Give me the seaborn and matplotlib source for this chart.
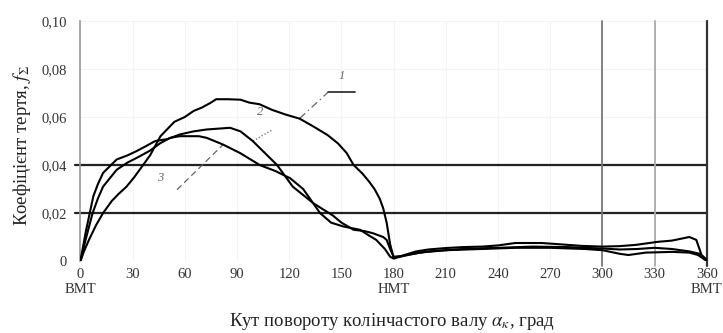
import numpy as np
import pandas as pd
import matplotlib
matplotlib.use("Agg")
import matplotlib.pyplot as plt
import seaborn as sns

# ---- data ----
x1 = [0, 2, 5, 9, 13, 18, 22, 26.5, 31, 36, 40, 43, 46, 50, 54, 60, 65, 70, 75, 78, 85, 92,
      97, 103, 110, 118, 126, 134, 142, 148, 153, 157, 162, 166, 169, 172, 174, 176, 178, 180,
      184, 193, 200, 210, 220, 231, 240, 250, 265, 275, 288, 300, 310, 319, 332, 340, 350,
      354, 357, 360]
y1 = [0, 0.004, 0.009, 0.015, 0.020, 0.025, 0.028, 0.031, 0.035, 0.040, 0.044, 0.048, 0.052,
      0.055, 0.058, 0.060, 0.0625, 0.064, 0.066, 0.0674, 0.0674, 0.0672, 0.066, 0.0653, 0.063,
      0.061, 0.0593, 0.056, 0.0525, 0.049, 0.045, 0.040, 0.0365, 0.033, 0.030, 0.026, 0.022,
      0.016, 0.007, 0.0015, 0.002, 0.004, 0.0048, 0.0054, 0.0058, 0.006, 0.0065, 0.0075,
      0.0075, 0.007, 0.0063, 0.006, 0.0062, 0.0067, 0.008, 0.0085, 0.010, 0.0088, 0.0025,
      0.0004]

x2 = [0, 3, 7.4, 10, 13, 20.8, 27, 32, 38, 43, 50, 57, 65, 72.6, 86, 92, 99, 106, 113, 122,
      134, 145, 150, 157, 163, 168, 174, 176, 178, 180, 185, 195, 210, 230, 250, 270, 290,
      300, 310, 315, 325, 340, 350, 355, 360]
y2 = [0, 0.012, 0.027, 0.032, 0.0367, 0.0423, 0.044, 0.0457, 0.048, 0.050, 0.0508, 0.0527,
      0.054, 0.0548, 0.0555, 0.054, 0.050, 0.045, 0.040, 0.031, 0.024, 0.019, 0.016, 0.013,
      0.0125, 0.0116, 0.010, 0.0088, 0.005, 0.0018, 0.002, 0.0035, 0.0045, 0.005, 0.0055,
      0.0055, 0.005, 0.0045, 0.003, 0.0025, 0.0035, 0.0038, 0.0035, 0.0025, 0.0]

x3 = [0, 3, 7, 10, 13, 20.8, 27, 34, 40, 45.7, 51.5, 57, 63, 68, 72.6, 82, 91.7, 103, 112,
      120.5, 128, 137.7, 144, 151, 160.7, 165, 170, 175, 178, 180, 187, 200, 220, 240, 260,
      280, 300, 310, 320, 330, 340, 350, 356, 360]
y3 = [0, 0.009, 0.020, 0.026, 0.031, 0.038, 0.041, 0.0436, 0.046, 0.049, 0.0513, 0.052,
      0.052, 0.052, 0.0513, 0.0485, 0.045, 0.040, 0.0375, 0.0345, 0.030, 0.020, 0.016,
      0.0144, 0.013, 0.011, 0.0088, 0.005, 0.0018, 0.001, 0.0025, 0.004, 0.005, 0.0055,
      0.006, 0.0058, 0.0052, 0.0048, 0.005, 0.0055, 0.005, 0.004, 0.003, 0.0005]

curve_names = ["1", "2", "3"]
x_ticks = [0, 30, 60, 90, 120, 150, 180, 210, 240, 270, 300, 330, 360]
x_ticklabels = ["0\nВМТ", "30", "60", "90", "120", "150", "180\nНМТ", "210", "240", "270",
                "300", "330", "360\nВМТ"]
y_ticks = [0, 0.02, 0.04, 0.06, 0.08, 0.10]
y_ticklabels = ["0", "0,02", "0,04", "0,06", "0,08", "0,10"]
ref_h = [0.02, 0.04]
ref_v = [300, 330]

df = pd.concat([
    pd.DataFrame({"x": x1, "y": y1, "curve": curve_names[0]}),
    pd.DataFrame({"x": x2, "y": y2, "curve": curve_names[1]}),
    pd.DataFrame({"x": x3, "y": y3, "curve": curve_names[2]}),
], ignore_index=True)

sns.set_theme(style="white")
plt.rcParams["font.family"] = ["Liberation Serif", "DejaVu Serif"]
plt.rcParams["mathtext.fontset"] = "stix"

fig = plt.figure(figsize=(7.23, 3.33), dpi=100)
ax = fig.add_axes([0.1113, 0.2162, 0.8662, 0.7208])

# faint grid
for t in x_ticks:
    ax.axvline(t, color="#f3f3f3", lw=0.8, zorder=0)
for t in y_ticks:
    ax.axhline(t, color="#f3f3f3", lw=0.8, zorder=0)

sns.lineplot(data=df, x="x", y="y", hue="curve", palette=["black"] * 3,
             estimator=None, sort=False, legend=False, lw=1.5, ax=ax, zorder=3)

for h in ref_h:
    ax.plot([-3, 360], [h, h], color="#222222", lw=1.6, clip_on=False, zorder=2)
ax.plot([ref_v[0]] * 2, [-0.002, 0.10], color="#777777", lw=1.3, clip_on=False, zorder=2)
ax.plot([ref_v[1]] * 2, [-0.002, 0.10], color="#aaaaaa", lw=1.3, clip_on=False, zorder=2)
ax.plot([360, 360], [-0.002, 0.10], color="#333333", lw=1.6, clip_on=False, zorder=2)

ax.set_xlim(0, 360)
ax.set_ylim(0, 0.10)
ax.set_xticks(x_ticks)
ax.set_xticklabels(x_ticklabels, fontsize=10.5, color="#333333", linespacing=1.2)
ax.set_yticks(y_ticks)
ax.set_yticklabels(y_ticklabels, fontsize=10.5, color="#333333")
ax.tick_params(axis="x", length=0, pad=5)
ax.tick_params(axis="y", length=0, pad=10)

for s in ["top", "right", "bottom"]:
    ax.spines[s].set_visible(False)
ax.spines["left"].set_color("#999999")
ax.spines["left"].set_linewidth(1.2)

ax.set_xlabel(r"Кут повороту колінчастого валу $\alpha_к$, град", fontsize=13.5,
              color="#222222")
ax.xaxis.set_label_coords(0.498, -0.254)
ax.xaxis.label.set_va("center")
ax.set_ylabel(r"Коефіцієнт тертя, $f_\Sigma$", fontsize=13.5, color="#222222")
ax.yaxis.set_label_coords(-0.093, 0.48)
ax.yaxis.label.set_va("center")

# curve labels with leader lines
lab_col = "#666666"
ax.plot([126, 142.3], [0.0594, 0.0703], color=lab_col, lw=0.9, ls=(0, (6, 3, 1, 3)))
ax.plot([142.3, 157.8], [0.0703, 0.0703], color="#222222", lw=1.2)
ax.text(150.4, 0.077, "1", fontsize=9, color=lab_col, ha="center", va="center", style="italic")
ax.plot([99.2, 110.7], [0.050, 0.0548], color=lab_col, lw=0.9, ls=":")
ax.text(103, 0.062, "2", fontsize=9, color=lab_col, ha="center", va="center", style="italic")
ax.plot([55.5, 82], [0.0297, 0.0485], color=lab_col, lw=0.9, ls=(0, (5, 3)))
ax.text(45.7, 0.0347, "3", fontsize=9, color=lab_col, ha="center", va="center", style="italic")

fig.savefig("out.png", dpi=100)
